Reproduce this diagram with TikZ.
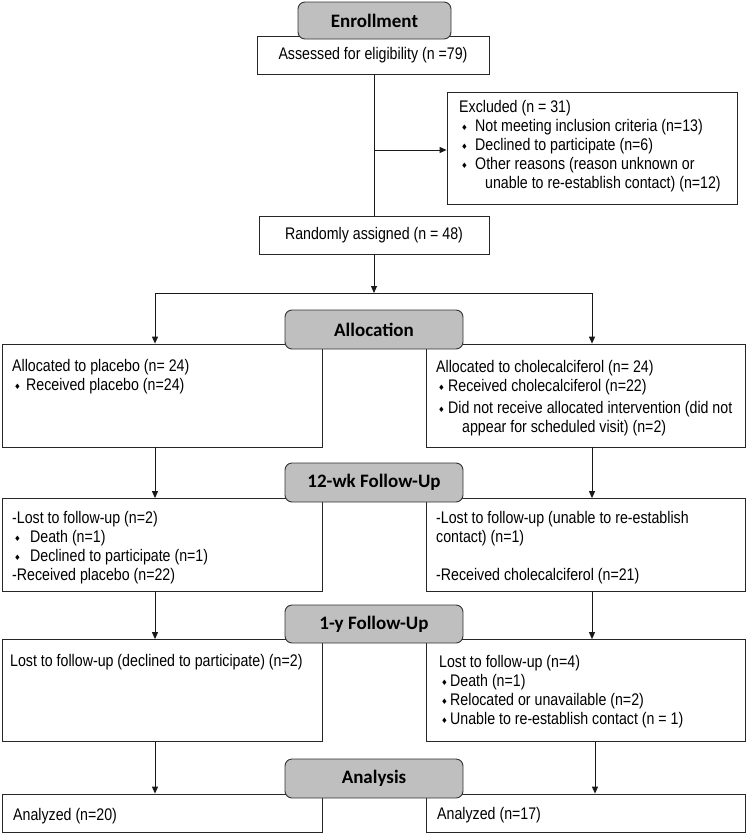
\documentclass[tikz,border=0pt]{standalone}
\usepackage{fontspec}
\setmainfont{Liberation Sans}[FakeStretch=0.845]
\newfontfamily\headfont{Carlito}
\newfontfamily\symfont{DejaVu Sans}
\usetikzlibrary{arrows.meta}
\newcommand\dmd{\raisebox{1pt}{\symfont\fontsize{7.5}{7.5}\selectfont ♦}}
\newcommand\bitem[1]{\makebox[#1][l]{\hspace*{2pt}\dmd}}
\newcommand\bodyfont{\fontsize{16.8}{19}\selectfont}
\begin{document}
\begin{tikzpicture}[x=1pt,y=-1pt,
  box/.style={draw=black!85,line width=0.8pt,fill=white,inner sep=0pt},
  head/.style={draw=black!80,line width=0.9pt,fill=black!25,rounded corners=7pt,inner sep=0pt,
    font=\headfont\bfseries\fontsize{19}{22}\selectfont},
  txt/.style={anchor=base west,inner sep=0pt,font=\bodyfont},
  conn/.style={line width=1pt,black!90},
  arr/.style={conn,-{Triangle[length=7pt,width=6pt]}}]

\fill[white] (0,0) rectangle (747,835);
\useasboundingbox (0,0) rectangle (747,835);

% boxes
\node[box,minimum width=232pt,minimum height=38pt,font=\bodyfont] (assess) at (373,55) {Assessed for eligibility (n =79)};
\node[box,minimum width=290pt,minimum height=112pt] (excl) at (592,148) {};
\node[box,minimum width=230pt,minimum height=38pt,font=\bodyfont] (rand) at (374,235) {Randomly assigned (n = 48)};

\node[box,minimum width=320pt,minimum height=103pt] (L1) at (162,395.5) {};
\node[box,minimum width=319pt,minimum height=103pt] (R1) at (585.5,395.5) {};
\node[box,minimum width=320pt,minimum height=93pt] (L2) at (162,545) {};
\node[box,minimum width=319pt,minimum height=93pt] (R2) at (585.5,545) {};
\node[box,minimum width=320pt,minimum height=102pt] (L3) at (162,690.5) {};
\node[box,minimum width=319pt,minimum height=102pt] (R3) at (585.5,690.5) {};
\node[box,minimum width=320pt,minimum height=38pt] (L4) at (162,813) {};
\node[box,minimum width=319pt,minimum height=38pt] (R4) at (585.5,813) {};

% texts
\node[txt] (excltxt) at (459,112) {\parbox[t]{280pt}{Excluded (n = 31)\\
\bitem{16pt}Not meeting inclusion criteria (n=13)\\
\bitem{16pt}Declined to participate (n=6)\\
\bitem{16pt}Other reasons (reason unknown or\\
\hspace*{26pt}unable to re-establish contact) (n=12)}};

\node[txt] (L1txt) at (12,371) {\parbox[t]{305pt}{Allocated to placebo (n= 24)\\
\bitem{14pt}Received placebo (n=24)}};

\node[txt] (R1txt) at (436,372) {\parbox[t]{305pt}{Allocated to cholecalciferol (n= 24)\\
\bitem{12pt}Received cholecalciferol (n=22)\\[3pt]
\bitem{12pt}Did not receive allocated intervention (did not\\
\hspace*{26pt}appear for scheduled visit) (n=2)}};

\node[txt] (L2txt) at (12,523) {\parbox[t]{305pt}{-Lost to follow-up (n=2)\\
\bitem{18pt}Death (n=1)\\
\bitem{18pt}Declined to participate (n=1)\\
-Received placebo (n=22)}};

\node[txt] (R2txt) at (436,523) {\parbox[t]{305pt}{-Lost to follow-up (unable to re-establish\\
contact) (n=1)\\[19pt]
-Received cholecalciferol (n=21)}};

\node[txt] (L3txt) at (10,666) {Lost to follow-up (declined to participate) (n=2)};

\node[txt] (R3txt) at (439,667) {\parbox[t]{305pt}{Lost to follow-up (n=4)\\
\bitem{11pt}Death (n=1)\\
\bitem{11pt}Relocated or unavailable (n=2)\\
\bitem{11pt}Unable to re-establish contact (n = 1)}};

\node[txt] (L4txt) at (13,820) {Analyzed (n=20)};
\node[txt] (R4txt) at (437,819) {Analyzed (n=17)};

% connectors
\coordinate (mid) at (374,0);
\coordinate (colL) at (155,0);
\coordinate (colR) at (592,0);
\coordinate (colR2) at (595,0);
\coordinate (br) at (374,150);
\coordinate (split) at (374,293);

\draw[conn] (assess.south -| mid) -- (rand.north -| mid);
\draw[arr] (br) -- (br -| excl.west);
\draw[arr] (rand.south -| mid) -- (split);
\draw[conn] (split -| colL) -- (split -| colR);
\draw[arr] (split -| colL) -- (L1.north -| colL);
\draw[arr] (split -| colR) -- (R1.north -| colR);
\draw[arr] (L1.south -| colL) -- (L2.north -| colL);
\draw[arr] (R1.south -| colR) -- (R2.north -| colR);
\draw[arr] (L2.south -| colL) -- (L3.north -| colL);
\draw[arr] (R2.south -| colR) -- (R3.north -| colR);
\draw[arr] (L3.south -| colL) -- (L4.north -| colL);
\draw[arr] (R3.south -| colR2) -- (R4.north -| colR2);

% headers
\node[head,minimum width=153pt,minimum height=37pt] (enroll) at (374.5,20.5) {Enrollment};
\node[head,minimum width=178pt,minimum height=39pt] (alloc) at (374,329.5) {Allocation};
\node[head,minimum width=178pt,minimum height=39pt] (fu12) at (374,482.5) {12-wk Follow-Up};
\node[head,minimum width=178pt,minimum height=38pt] (fu1y) at (374,624) {1-y Follow-Up};
\node[head,minimum width=178pt,minimum height=39pt] (anal) at (374,778.5) {Analysis};
\end{tikzpicture}
\end{document}
